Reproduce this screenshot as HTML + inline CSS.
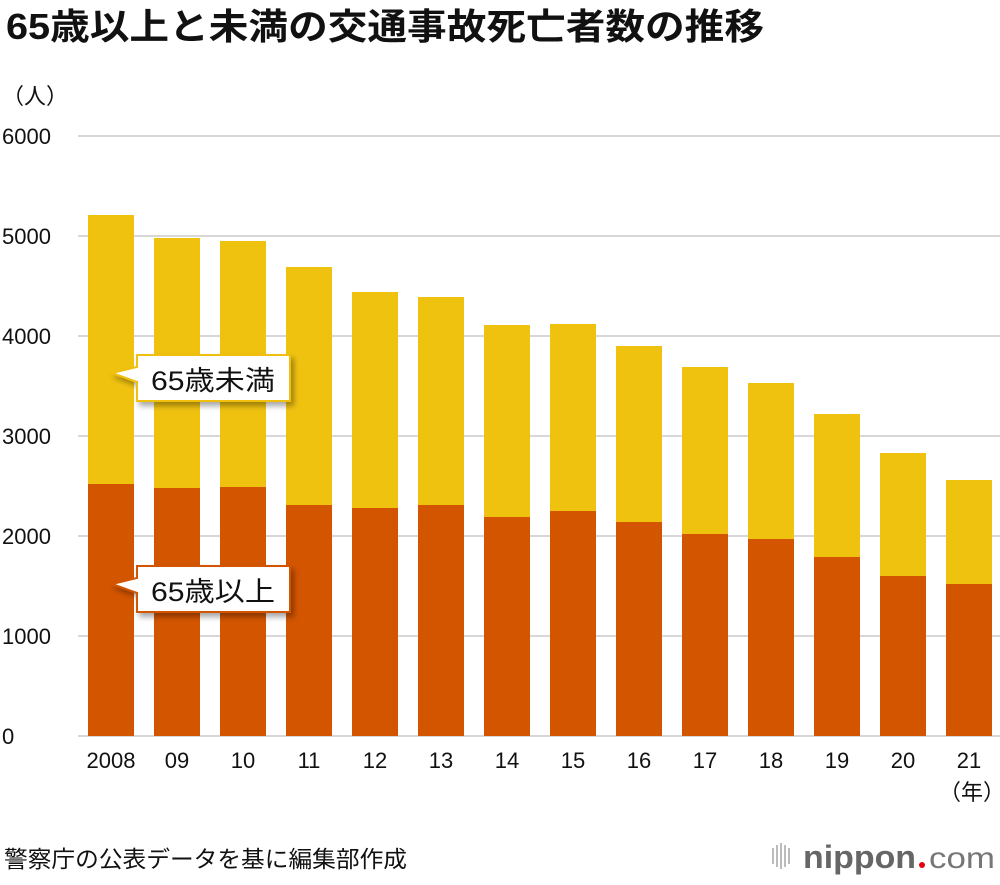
<!DOCTYPE html>
<html><head><meta charset="utf-8"><style>
body{margin:0;background:#fff;width:1000px;height:880px;overflow:hidden;font-family:"Liberation Sans","Noto Sans CJK JP",sans-serif}
</style></head><body>
<svg id="c" width="1000" height="880" xmlns="http://www.w3.org/2000/svg" font-family="Liberation Sans, Noto Sans CJK JP, sans-serif">
<defs><filter id="sh" x="-20%" y="-20%" width="150%" height="160%"><feDropShadow dx="3" dy="4" stdDeviation="3" flood-color="#000" flood-opacity="0.35"/></filter></defs>
<text x="6" y="39" font-size="36" font-weight="bold" fill="#111" textLength="758" lengthAdjust="spacingAndGlyphs">65歳以上と未満の交通事故死亡者数の推移</text>
<text x="2" y="104" font-size="22" fill="#111">（人）</text>
<g id="grid"></g><g id="bars"></g><g id="xl"></g>
<text x="972" y="800" font-size="22" text-anchor="middle" fill="#111">（年）</text>
<g filter="url(#sh)">
<path d="M137,355 H290 V401 H137 V382 L112,373 L137,367 Z" fill="#fff" stroke="#f0c010" stroke-width="2"/>
</g>
<text x="151" y="390" font-size="27" fill="#111" textLength="124" lengthAdjust="spacingAndGlyphs">65歳未満</text>
<g filter="url(#sh)">
<path d="M137,566 H290 V612 H137 V593 L112,584 L137,578 Z" fill="#fff" stroke="#d45500" stroke-width="2"/>
</g>
<text x="151" y="601" font-size="27" fill="#111" textLength="124" lengthAdjust="spacingAndGlyphs">65歳以上</text>
<text x="4" y="867" font-size="23" fill="#111" textLength="403" lengthAdjust="spacingAndGlyphs">警察庁の公表データを基に編集部作成</text>
<g>
<g fill="#bbb"><rect x="772" y="848" width="2" height="16"/><rect x="776" y="845" width="2" height="22"/><rect x="780" y="843" width="2" height="26"/><rect x="784" y="845" width="2" height="22"/><rect x="788" y="848" width="2" height="16"/></g>
<text x="803" y="868" font-size="32" font-weight="bold" fill="#666" textLength="113" lengthAdjust="spacingAndGlyphs">nippon</text>
<circle cx="922" cy="865" r="3" fill="#e60012"/>
<text x="929" y="868" font-size="30" fill="#777" textLength="66" lengthAdjust="spacingAndGlyphs">com</text>
</g>
</svg>
<script>
const years=["2008","09","10","11","12","13","14","15","16","17","18","19","20","21"];
const over65=[2520,2480,2490,2310,2280,2310,2190,2250,2140,2020,1970,1790,1600,1520];
const totals=[5210,4980,4950,4690,4440,4390,4110,4120,3900,3690,3530,3220,2830,2560];
const ticks=[0,1000,2000,3000,4000,5000,6000];
const NS="http://www.w3.org/2000/svg";
const y=v=>736-v*0.1;
const x=i=>111+i*66;
const bw=46;
function mk(t,a,p){const e=document.createElementNS(NS,t);for(const k in a)e.setAttribute(k,a[k]);p.appendChild(e);return e;}
const grid=document.getElementById('grid'),bars=document.getElementById('bars'),xl=document.getElementById('xl');
ticks.forEach(t=>{
 const l=mk('line',{x1:78,x2:1000,y1:y(t),y2:y(t),stroke:'#ccc','stroke-width':1.5},grid);
 
 
 const tx=mk('text',{x:2,y:y(t)+8,'font-size':22,fill:'#111'},grid);tx.textContent=t;
 
 
});
years.forEach((yr,i)=>{
 const u=mk('rect',{x:x(i)-bw/2,y:y(totals[i]),width:bw,height:y(over65[i])-y(totals[i]),fill:'#f0c210'},bars);
 
 
 const o=mk('rect',{x:x(i)-bw/2,y:y(over65[i]),width:bw,height:y(0)-y(over65[i]),fill:'#d45500'},bars);
 
 
 const t=mk('text',{x:x(i),y:768,'font-size':22,'text-anchor':'middle',fill:'#111'},xl);t.textContent=yr;
 
 
});
</script>
</body></html>
